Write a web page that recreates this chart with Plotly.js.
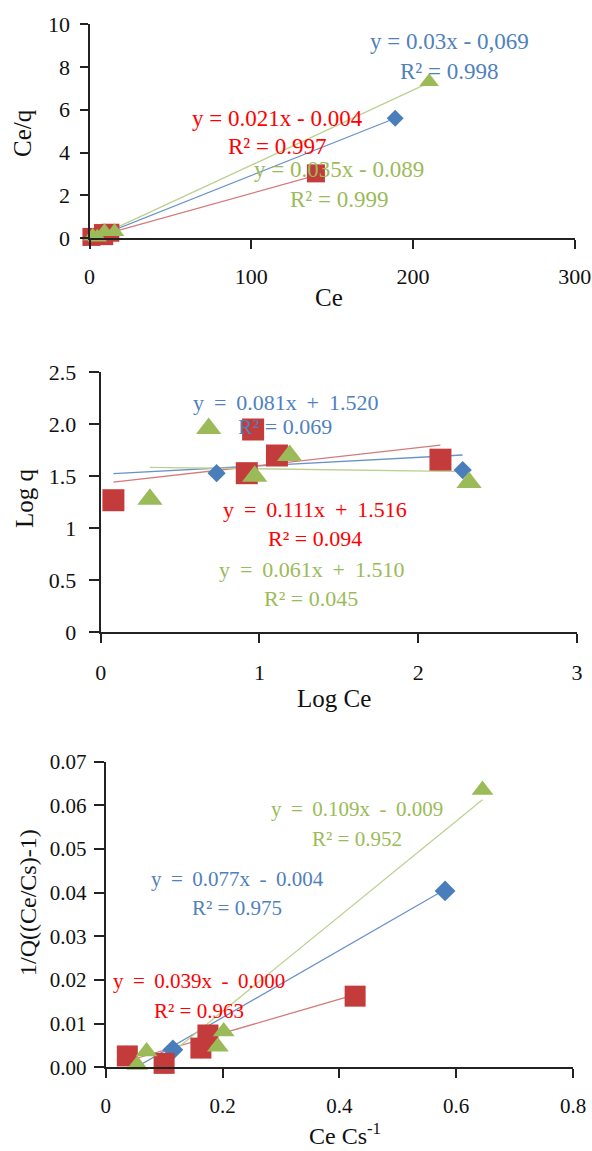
<!DOCTYPE html>
<html>
<head>
<meta charset="utf-8">
<script src="https://cdn.plot.ly/plotly-3.0.1.min.js"></script>
<style>html,body{margin:0;padding:0;background:#fff;}#chart{width:592px;height:1151px;}</style>
</head>
<body>
<div id="chart"></div>
<script>
// ---------- Panel 1 : Ce vs Ce/q ----------
const ceBlue   = [1.2, 5.4, 8.5, 189];
const ceqBlue  = [0.06, 0.16, 0.25, 5.6];
const ceRed    = [1.2, 8.3, 9.1, 12.9, 140];
const ceqRed   = [0.065, 0.245, 0.10, 0.26, 3.03];
const ceGreen  = [2.0, 4.8, 9.3, 15.5, 210];
const ceqGreen = [0.10, 0.05, 0.30, 0.31, 7.31];
const slope1 = [0.03, 0.021, 0.035];      // blue, red, green
const icpt1  = [-0.069, -0.004, -0.089];
const eq1 = ["y = 0.03x - 0,069", "y = 0.021x - 0.004", "y = 0.035x - 0.089"];
const r2_1 = ["R² = 0.998", "R² = 0.997", "R² = 0.999"];
const xTicks1 = [0, 100, 200, 300];
const yTicks1 = [0, 2, 4, 6, 8, 10];

// ---------- Panel 2 : Log Ce vs Log q ----------
const logCeBlue  = [0.08, 0.73, 0.93, 2.28];
const logqBlue   = [1.27, 1.53, 1.53, 1.56];
const logCeRed   = [0.08, 0.92, 0.96, 1.11, 2.14];
const logqRed    = [1.27, 1.53, 1.95, 1.70, 1.66];
const logCeGreen = [0.31, 0.68, 0.97, 1.19, 2.32];
const logqGreen  = [1.28, 1.96, 1.50, 1.70, 1.44];
const slope2 = [0.081, 0.172, -0.021];
const icpt2  = [1.52, 1.431, 1.593];
const eq2 = ["y = 0.081x + 1.520", "y = 0.111x + 1.516", "y = 0.061x + 1.510"];
const r2_2 = ["R² = 0.069", "R² = 0.094", "R² = 0.045"];
const xTicks2 = [0, 1, 2, 3];
const yTicks2 = [0, 0.5, 1, 1.5, 2, 2.5];
const yTickText2 = ["0", "0.5", "1", "1.5", "2.0", "2.5"];

// ---------- Panel 3 : Ce Cs-1 vs 1/Q((Ce/Cs)-1) ----------
const csBlue  = [0.037, 0.115, 0.163, 0.581];
const qBlue3  = [0.0026, 0.0040, 0.0044, 0.0404];
const csRed   = [0.037, 0.100, 0.163, 0.175, 0.427];
const qRed3   = [0.0026, 0.0009, 0.0044, 0.0074, 0.0163];
const csGreen = [0.054, 0.070, 0.192, 0.202, 0.645];
const qGreen3 = [0.0005, 0.0036, 0.0047, 0.0082, 0.0635];
const slope3 = [0.077, 0.039, 0.109];
const icpt3  = [-0.004, 0.000, -0.009];
const eq3 = ["y = 0.077x - 0.004", "y = 0.039x - 0.000", "y = 0.109x - 0.009"];
const r2_3 = ["R² = 0.975", "R² = 0.963", "R² = 0.952"];
const xTicks3 = [0, 0.2, 0.4, 0.6, 0.8];
const xTickText3 = ["0", "0.2", "0.4", "0.6", "0.8"];
const yTicks3 = [0, 0.01, 0.02, 0.03, 0.04, 0.05, 0.06, 0.07];
const yTickText3 = ["0.00", "0.01", "0.02", "0.03", "0.04", "0.05", "0.06", "0.07"];

// ---------- styling ----------
const W = 592, H = 1151;
const FONT = '"Liberation Serif", "Times New Roman", serif';
const mkCol = ["#4a7ebb", "#c43b3b", "#9bbb59"];
const lnCol = ["#6a92c8", "#d57a7a", "#bcd191"];
const txtCol = ["#4f81bd", "#ff0000", "#9bbb59"];
const symbols = ["diamond", "square", "triangle-up"];
const fx = p => p / W;
const fy = p => 1 - p / H;
const thin = s => s.replace(/ ([=+\-]) /g, " \u2009$1\u2009 ");

const traces = [];
function addPanel(xa, ya, xsList, ysList, slopes, icpts, sizes) {
  for (let i = 0; i < 3; i++) {
    const xs = xsList[i];
    const x0 = Math.min(...xs), x1 = Math.max(...xs);
    traces.push({x: [x0, x1], y: [slopes[i] * x0 + icpts[i], slopes[i] * x1 + icpts[i]],
      xaxis: xa, yaxis: ya, mode: "lines", line: {color: lnCol[i], width: 1.3},
      hoverinfo: "skip", showlegend: false});
  }
  for (let i = 0; i < 3; i++) {
    traces.push({x: xsList[i], y: ysList[i], xaxis: xa, yaxis: ya, mode: "markers",
      cliponaxis: false, showlegend: false,
      marker: {symbol: symbols[i], size: sizes[i], color: mkCol[i], line: {width: 0}}});
  }
}
addPanel("x", "y", [ceBlue, ceRed, ceGreen], [ceqBlue, ceqRed, ceqGreen], slope1, icpt1, [13, 18, 17]);
addPanel("x2", "y2", [logCeBlue, logCeRed, logCeGreen], [logqBlue, logqRed, logqGreen], slope2, icpt2, [14, 22, 22]);
addPanel("x3", "y3", [csBlue, csRed, csGreen], [qBlue3, qRed3, qGreen3], slope3, icpt3, [16, 21, 19]);

function axis(domain, range, vals, text, len, standoff, size, anchor) {
  return {domain: domain, range: range, anchor: anchor, tickmode: "array", tickvals: vals,
    ticktext: text || vals.map(String), showgrid: false, zeroline: false, showline: true,
    linecolor: "#222", linewidth: 2, ticks: "outside", ticklen: len, tickwidth: 2,
    tickcolor: "#222", ticklabelstandoff: standoff, fixedrange: true,
    tickfont: {family: FONT, size: size, color: "#111"}};
}

const ann = [];
function label(text, x, y, color, size, angle) {
  ann.push({text: text, x: fx(x), y: fy(y), xref: "paper", yref: "paper", showarrow: false,
    xanchor: "center", yanchor: "middle", textangle: angle || 0,
    font: {family: FONT, size: size, color: color}});
}
// axis titles
label("Ce/q", 22, 133, "#111", 25, -90);
label("Ce", 329, 298, "#111", 25);
label("Log q", 25, 498, "#111", 25, -90);
label("Log Ce", 334, 698, "#111", 25);
label("1/Q((Ce/Cs)-1)", 28, 903, "#111", 24, -90);
label("Ce Cs<sup>-1</sup>", 345, 1134, "#111", 24);

// equations (blue, red, green)
const pos1 = [[449, 42, 71], [277, 118, 147], [339, 170, 199]];
for (let i = 0; i < 3; i++) {
  label(eq1[i], pos1[i][0], pos1[i][1], txtCol[i], 23);
  label(r2_1[i], pos1[i][0], pos1[i][2], txtCol[i], 23);
}
const pos2 = [[285, 402, 426], [315, 509, 538], [311, 569, 598]];
for (let i = 0; i < 3; i++) {
  label(thin(eq2[i]), pos2[i][0], pos2[i][1], txtCol[i], 22);
  label(r2_2[i], pos2[i][0], pos2[i][2], txtCol[i], 22);
}
const pos3 = [[237, 879, 908], [199, 981, 1011], [357, 809, 839]];
for (let i = 0; i < 3; i++) {
  label(thin(eq3[i]), pos3[i][0], pos3[i][1], txtCol[i], 21);
  label(r2_3[i], pos3[i][0], pos3[i][2], txtCol[i], 21);
}

const layout = {
  width: W, height: H, margin: {l: 0, r: 0, t: 0, b: 0},
  paper_bgcolor: "#fff", plot_bgcolor: "rgba(0,0,0,0)", showlegend: false,
  font: {family: FONT},
  xaxis:  axis([fx(89.5), fx(574.7)], [0, 300], xTicks1, null, 9, 8, 22, "y"),
  yaxis:  axis([fy(238.3), fy(24)], [0, 10], yTicks1, null, 8, 5, 22, "x"),
  xaxis2: axis([fx(100.7), fx(577)], [0, 3], xTicks2, null, 9, 10, 22, "y2"),
  yaxis2: axis([fy(632.3), fy(372.3)], [0, 2.5], yTicks2, yTickText2, 10, 8, 22, "x2"),
  xaxis3: axis([fx(105.7), fx(573)], [0, 0.8], xTicks3, xTickText3, 9, 9, 21, "y3"),
  yaxis3: axis([fy(1067.3), fy(761.7)], [0, 0.07], yTicks3, yTickText3, 10, 3, 21, "x3"),
  annotations: ann
};
Plotly.newPlot("chart", traces, layout, {displayModeBar: false, staticPlot: true});
</script>
</body>
</html>
